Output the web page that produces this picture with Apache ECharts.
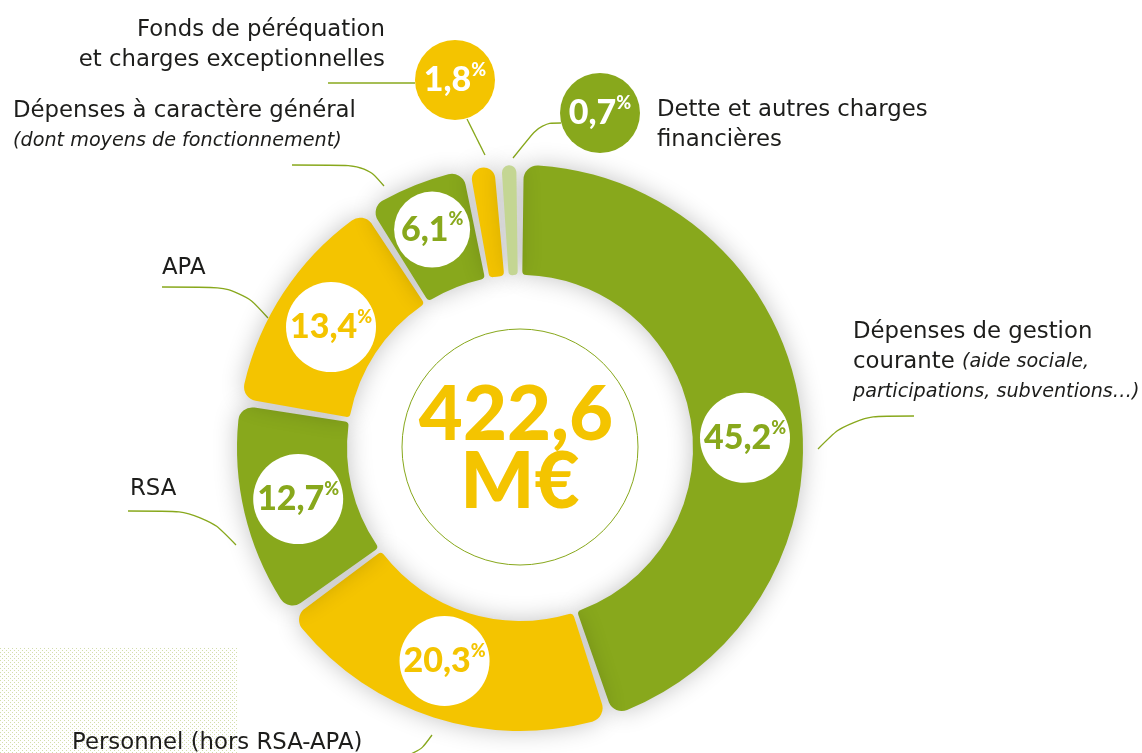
<!DOCTYPE html>
<html>
<head>
<meta charset="utf-8">
<title>Dépenses de fonctionnement</title>
<script src="https://cdn.jsdelivr.net/npm/echarts@6/dist/echarts.min.js"></script>
<style>
  html, body { margin: 0; padding: 0; background: #fff; }
  #chart { width: 1142px; height: 753px; }
</style>
</head>
<body>
<div id="chart"></div>
<script>
// data, clockwise from 12 o'clock
const categories = [
  'Dépenses de gestion courante',
  'Personnel (hors RSA-APA)',
  'RSA',
  'APA',
  'Dépenses à caractère général',
  'Fonds de péréquation et charges exceptionnelles',
  'Dette et autres charges financières'
]
const shares = [45.2, 20.3, 12.7, 13.4, 6.1, 1.8, 0.7]
const totalAmount = '422,6'
const totalUnit = 'M€'

// label text, broken on lines like the print version
const nameText = [
  '{n|Dépenses de gestion}\n{n|courante }{i|(aide sociale,}\n{i|participations, subventions…)}',
  '{n|Personnel (hors RSA-APA)}',
  '{n|RSA}',
  '{n|APA}',
  '{n|Dépenses à caractère général}\n{i|(dont moyens de fonctionnement)}',
  '{n|Fonds de péréquation}\n{n|et charges exceptionnelles}',
  '{n|Dette et autres charges}\n{n|financières}'
]

const GREEN = '#88a81c'
const YELLOW = '#f4c400'
const PALE = '#c4d693'
const INK = '#1d1d1b'
const sliceColors = [GREEN, YELLOW, GREEN, YELLOW, GREEN, YELLOW, PALE]
const badgeFill = ['#fff', '#fff', '#fff', '#fff', '#fff', YELLOW, GREEN]
const badgeInk = [GREEN, YELLOW, GREEN, YELLOW, GREEN, '#fff', '#fff']

// layout (px)
const CX = 520, CY = 448
const nameSpots = [
  { x: 853, y: 317, align: 'left', line: [[818, 449], [851, 416], [914, 416]] },
  { x: 72, y: 728, align: 'left', line: [[432, 735], [416, 757], [380, 757]] },
  { x: 130, y: 474, align: 'left', line: [[236, 545], [203, 511], [128, 511]] },
  { x: 162, y: 253, align: 'left', line: [[268, 318], [240, 287], [162, 287]] },
  { x: 13, y: 96, align: 'left', line: [[384, 186], [366, 165], [292, 165]] },
  { x: 385, y: 15, align: 'right', line: [[415, 83], [370, 83], [328, 83]] },
  { x: 657, y: 95, align: 'left', line: null }
]
const badgeSpots = [
  { dx: -3, dy: 27 },
  { dx: -5, dy: -7 },
  { dx: 3, dy: -2 },
  { dx: 4, dy: 6 },
  { dx: -2, dy: -4 },
  { x: 455, y: 80, line: [[485, 155], [476, 137], [467, 119]] },
  { x: 600, y: 113, line: [[513, 158], [541, 123], [561, 123]] }
]

const fmt = v => v.toFixed(1).replace('.', ',')

const badgeLabel = (i) => {
  const outside = i >= 5
  const d = i === 4 ? 76 : (outside ? 80 : 90)
  return {
    show: true,
    position: outside ? 'outside' : 'inside',
    formatter: '{v|' + fmt(shares[i]) + '}{p|%}',
    width: d,
    height: d,
    borderRadius: d / 2,
    backgroundColor: badgeFill[i],
    overflow: 'none',
    rich: {
      v: { fontFamily: 'Lato', fontWeight: 900, fontSize: 34, color: badgeInk[i], lineHeight: d, align: 'center' },
      p: { fontFamily: 'Lato', fontWeight: 900, fontSize: 18, color: badgeInk[i], lineHeight: 20, padding: [0, 0, 20, 0], align: 'center' }
    }
  }
}

const dotCanvas = document.createElement('canvas')
dotCanvas.width = 4
dotCanvas.height = 4
const dctx = dotCanvas.getContext('2d')
dctx.fillStyle = '#d3deab'
dctx.fillRect(0, 0, 1, 1)
dctx.fillRect(2, 2, 1, 1)

const chart = echarts.init(document.getElementById('chart'))

chart.setOption({
  animation: false,
  backgroundColor: '#fff',
  graphic: [
    {
      type: 'rect', z: -10,
      shape: { x: 0, y: 647, width: 238, height: 106 },
      style: { fill: { image: dotCanvas, repeat: 'repeat' } },
      silent: true
    },
    {
      type: 'circle', z: 1,
      shape: { cx: CX, cy: CY - 1, r: 118 },
      style: { fill: 'none', stroke: GREEN, lineWidth: 1 },
      silent: true
    },
    {
      type: 'text', z: 2, x: CX - 4, y: CY - 33,
      style: { text: totalAmount, fill: YELLOW, font: '900 76px Lato', align: 'center', verticalAlign: 'middle' },
      silent: true
    },
    {
      type: 'text', z: 2, x: CX, y: CY + 35,
      style: { text: totalUnit, fill: YELLOW, font: '900 78px Lato', align: 'center', verticalAlign: 'middle' },
      silent: true
    }
  ],
  series: [
    {
      type: 'pie',
      center: [CX, CY],
      radius: [173, 283],
      startAngle: 90,
      clockwise: true,
      padAngle: 1.5,
      minAngle: 3,
      avoidLabelOverlap: false,
      silent: true,
      itemStyle: {
        borderRadius: [4, 4, 14, 14],
        shadowBlur: 24,
        shadowColor: 'rgba(0, 0, 0, 0.24)'
      },
      labelLine: { show: true, length: 10, length2: 10, smooth: 0.4, lineStyle: { color: GREEN, width: 1.3 } },
      data: shares.map((v, i) => ({
        value: v,
        name: categories[i],
        itemStyle: { color: sliceColors[i] },
        label: badgeLabel(i),
        labelLine: { show: i >= 5 }
      })),
      labelLayout: (p) => {
        const s = badgeSpots[p.dataIndex]
        if (s.x == null) return { dx: s.dx, dy: s.dy }
        return { x: s.x, y: s.y, align: 'center', verticalAlign: 'middle', labelLinePoints: s.line }
      }
    },
    {
      type: 'pie',
      center: [CX, CY],
      radius: [173, 283],
      startAngle: 90,
      clockwise: true,
      padAngle: 1.5,
      minAngle: 3,
      avoidLabelOverlap: false,
      silent: true,
      itemStyle: { color: 'rgba(0,0,0,0)' },
      label: {
        show: true,
        position: 'outside',
        overflow: 'none',
        formatter: (p) => nameText[p.dataIndex],
        rich: {
          n: { fontFamily: 'DejaVu Sans', fontSize: 22.8, color: INK, lineHeight: 30 },
          i: { fontFamily: 'DejaVu Sans', fontStyle: 'italic', fontSize: 19.2, color: INK, lineHeight: 30 }
        }
      },
      labelLine: { show: true, smooth: 0.4, lineStyle: { color: GREEN, width: 1.3 } },
      data: shares.map((v, i) => ({
        value: v,
        name: categories[i],
        labelLine: { show: nameSpots[i].line != null }
      })),
      labelLayout: (p) => {
        const s = nameSpots[p.dataIndex]
        const out = { x: s.x, y: s.y, align: s.align, verticalAlign: 'top' }
        if (s.line) out.labelLinePoints = s.line
        return out
      }
    }
  ]
})

window.addEventListener('resize', () => chart.resize())
</script>
</body>
</html>
